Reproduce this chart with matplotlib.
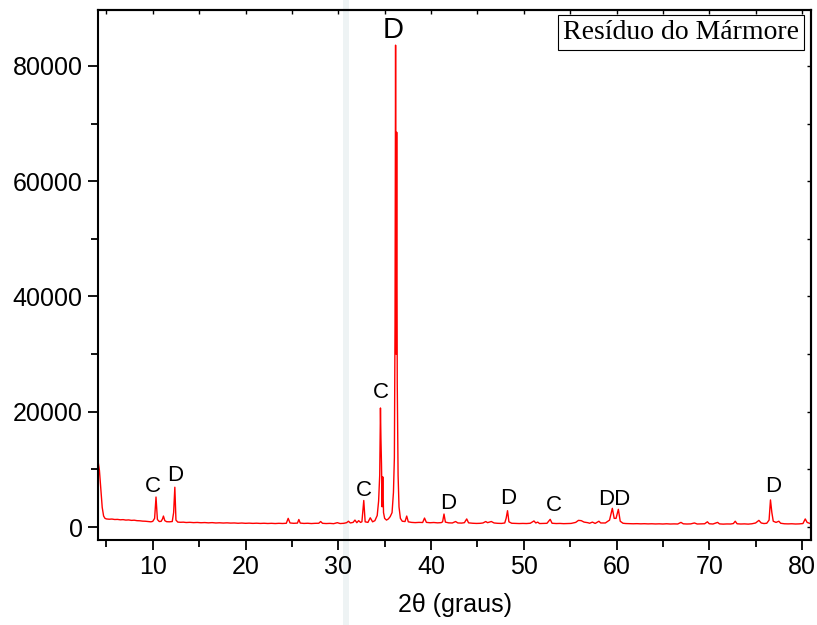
import matplotlib
matplotlib.use("Agg")
import matplotlib.pyplot as plt
from matplotlib.ticker import MultipleLocator

# 2theta (graus) and intensity
two_theta = [
    4.1, 4.25, 4.4, 4.55, 4.7, 4.85, 5.0, 5.3, 5.6, 5.9, 6.2, 6.5, 6.8, 7.1, 7.4,
    7.7, 8.0, 8.3, 8.6, 8.9, 9.2, 9.5, 9.8, 10.0, 10.2, 10.35, 10.5, 10.7, 10.9,
    11.05, 11.15, 11.3, 11.5, 11.8, 12.1, 12.25, 12.38, 12.5, 12.7, 13.0,
    13.3, 13.6, 14.0, 14.4, 14.8, 15.2, 15.6, 16.0, 16.4, 16.8, 17.2, 17.6, 18.0,
    18.4, 18.8, 19.2, 19.6, 20.0, 20.4, 20.8, 21.2, 21.6, 22.0, 22.4, 22.8, 23.2,
    23.6, 24.0, 24.4, 24.6, 24.8, 25.2, 25.6, 25.75, 25.9, 26.3, 26.7, 27.1, 27.5,
    27.9, 28.1, 28.3, 28.7, 29.1, 29.5, 29.9, 30.2, 30.6, 30.9, 31.1, 31.3, 31.6,
    31.8, 32.0, 32.2, 32.4, 32.55, 32.75, 32.9, 33.2, 33.45, 33.7, 33.95, 34.2,
    34.35, 34.47, 34.55, 34.6, 34.66, 34.73, 34.8, 34.88, 35.0, 35.2, 35.4, 35.6,
    35.8, 35.95, 36.05, 36.12, 36.18, 36.24, 36.3, 36.36, 36.45, 36.55, 36.7,
    36.9, 37.2, 37.38, 37.55, 37.9, 38.3, 38.7, 39.1, 39.3, 39.5, 39.9, 40.3,
    40.7, 41.1, 41.25, 41.4, 41.55, 41.9, 42.3, 42.65, 42.9, 43.3, 43.6, 43.85,
    44.05, 44.5, 44.9, 45.3, 45.6, 45.9, 46.1, 46.5, 46.8, 47.2, 47.6, 47.95,
    48.1, 48.25, 48.4, 48.7, 49.1, 49.5, 49.9, 50.3, 50.7, 51.1, 51.3, 51.5,
    51.7, 52.1, 52.5, 52.85, 53.05, 53.5, 53.9, 54.3, 54.7, 55.1, 55.6, 55.9,
    56.2, 56.5, 56.9, 57.1, 57.4, 57.7, 58.1, 58.3, 58.8, 59.25, 59.55, 59.75,
    59.95, 60.2, 60.4, 60.7, 61.0, 61.4, 61.8, 62.2, 62.6, 63.0, 63.4, 63.8,
    64.2, 64.6, 65.0, 65.4, 65.8, 66.2, 66.6, 66.95, 67.2, 67.6, 68.0, 68.4,
    68.7, 69.1, 69.5, 69.8, 70.0, 70.4, 70.9, 71.1, 71.5, 71.9, 72.3, 72.6,
    72.8, 73.0, 73.4, 73.8, 74.2, 74.6, 75.0, 75.35, 75.6, 75.9, 76.2, 76.45,
    76.6, 76.75, 76.9, 77.2, 77.5, 77.7, 78.1, 78.5, 78.9, 79.3, 79.7, 80.1,
    80.35, 80.55, 80.8,
]
intensity = [
    11450, 9800, 6500, 3400, 1900, 1500, 1400, 1350, 1380, 1300, 1320, 1250, 1280,
    1200, 1230, 1150, 1180, 1100, 1080, 1020, 1000, 950, 900, 980, 1500, 5200,
    1300, 950, 980, 1400, 1900, 1100, 920, 900, 950, 2500, 6900, 1200, 850, 820,
    840, 780, 810, 760, 790, 740, 770, 720, 760, 700, 730, 690, 720, 680, 700,
    650, 690, 640, 670, 630, 660, 620, 650, 610, 640, 600, 640, 610, 650, 1500,
    700, 640, 680, 1300, 680, 620, 650, 600, 640, 650, 950, 640, 600, 630, 580,
    750, 600, 640, 750, 1000, 700, 800, 1200, 750, 1100, 800, 900, 4600, 900,
    800, 1600, 900, 1100, 2000, 4500, 9000, 20650, 15400, 11000, 3500, 8700,
    2500, 1500, 1200, 1400, 1800, 2500, 6000, 12000, 35000, 83600, 30000, 68500,
    25000, 9000, 3500, 1500, 1000, 950, 1900, 900, 800, 760, 800, 780, 1550, 800,
    740, 780, 720, 760, 900, 2250, 850, 720, 700, 950, 700, 680, 750, 1400, 720,
    650, 620, 640, 700, 950, 750, 950, 700, 640, 620, 700, 1500, 2830, 900, 650,
    620, 600, 620, 600, 650, 1050, 700, 850, 600, 620, 640, 1330, 650, 600, 620,
    580, 600, 620, 800, 1150, 1100, 850, 750, 650, 850, 620, 1000, 700, 700, 1200,
    3240, 1500, 1500, 3070, 1000, 650, 600, 580, 560, 580, 550, 570, 540, 560,
    530, 550, 520, 560, 520, 540, 520, 800, 550, 520, 540, 700, 520, 540, 560,
    900, 560, 520, 800, 540, 500, 530, 520, 600, 1000, 560, 520, 540, 500, 560,
    700, 1150, 700, 600, 650, 1200, 4700, 2500, 1000, 800, 1000, 650, 560, 540,
    560, 520, 540, 600, 1400, 800, 650,
]

# peak identification (C / D) and where the letters sit
peak_labels = ["C", "D", "C", "C", "D", "D", "D", "C", "DD", "D"]
label_x = [10.05, 12.4, 32.8, 34.6, 35.95, 41.8, 48.3, 53.2, 59.8, 76.9]
label_y = [7100, 8850, 6250, 23400, 86300, 4000, 5000, 3800, 4700, 7100]
label_size = [16, 16, 16, 16, 21, 16, 16, 16, 16, 16]

fig = plt.figure(figsize=(8.17, 6.25), dpi=100)

# faint watermark band behind the plot
bg = fig.add_axes([0, 0, 1, 1], zorder=-1)
bg.axvspan(0.420, 0.427, color="#eef3f4", linewidth=0)
bg.set_xlim(0, 1)
bg.set_ylim(0, 1)
bg.axis("off")

ax = fig.add_axes([0.120, 0.136, 0.873, 0.848])
ax.patch.set_alpha(0)

ax.plot(two_theta, intensity, color="#ff0000", linewidth=1.0)

for lab, lx, ly, fs in zip(peak_labels, label_x, label_y, label_size):
    ax.text(lx, ly, lab, ha="center", va="center", fontsize=fs,
            family="Liberation Sans")

ax.text(0.983, 0.958, "Resíduo do Mármore", transform=ax.transAxes,
        ha="right", va="center", fontsize=20, family="Liberation Serif",
        bbox=dict(boxstyle="square,pad=0.18", facecolor="white",
                  edgecolor="black", linewidth=0.8))

ax.set_xlim(4.1, 81.0)
ax.set_ylim(-2255, 89700)

ax.xaxis.set_major_locator(MultipleLocator(10))
ax.xaxis.set_minor_locator(MultipleLocator(5))
ax.yaxis.set_major_locator(MultipleLocator(20000))
ax.yaxis.set_minor_locator(MultipleLocator(10000))

for sp in ax.spines.values():
    sp.set_linewidth(1.5)

ax.tick_params(which="major", direction="out", length=7, width=1.3,
               labelsize=18, pad=4)
ax.tick_params(which="minor", direction="out", length=5, width=1.3)
for t in ax.get_xticklabels() + ax.get_yticklabels():
    t.set_family("Liberation Sans")

# mirrored inner ticks on top and right, no labels
top = ax.secondary_xaxis("top")
top.xaxis.set_major_locator(MultipleLocator(5))
top.tick_params(direction="in", length=3, width=1.0, labeltop=False)
top.spines["top"].set_linewidth(1.5)
right = ax.secondary_yaxis("right")
right.yaxis.set_major_locator(MultipleLocator(10000))
right.tick_params(direction="in", length=3, width=1.0, labelright=False)
right.spines["right"].set_linewidth(1.5)

ax.set_xlabel("2θ (graus)", fontsize=18, family="Liberation Sans", labelpad=10)

fig.savefig("out.png", dpi=100)
